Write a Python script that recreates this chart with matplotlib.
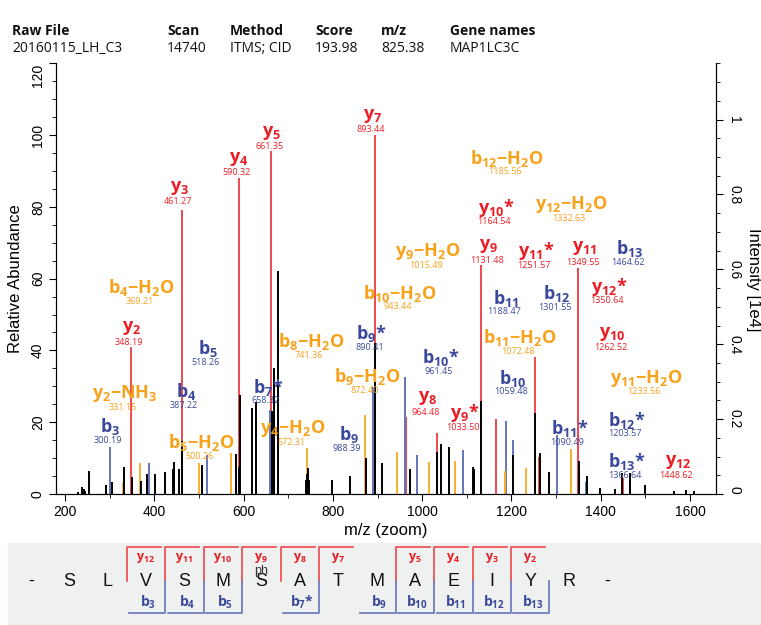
import matplotlib.pyplot as plt
from matplotlib.ticker import MultipleLocator
from matplotlib.patches import Rectangle

plt.rcParams['font.family'] = ['Liberation Sans', 'DejaVu Sans']
plt.rcParams['mathtext.fontset'] = 'custom'
plt.rcParams['mathtext.rm'] = 'Open Sans'
plt.rcParams['mathtext.bf'] = 'Open Sans:bold'

# ---- data -------------------------------------------------------------
header_keys = ['Raw File', 'Scan', 'Method', 'Score', 'm/z', 'Gene names']
header_vals = ['20160115_LH_C3', '14740', 'ITMS; CID', '193.98', '825.38', 'MAP1LC3C']

sequence = 'SLVSMSATMAEIYR'
phospho_site = 6
y_cover = [12, 11, 10, 9, 8, 7, 5, 4, 3, 2]
b_cover = [3, 4, 5, 7, 9, 10, 11, 12, 13]
b_cover_star = [7]

# annotated fragment peaks (relative abundance, %)
ion_names = ['y2', 'y3', 'y4', 'y5', 'y7', 'y8', 'y9', 'y10', 'y11', 'y12',
             'y9*', 'y10*', 'y11*', 'y12*',
             'b3', 'b4', 'b5', 'b9', 'b10', 'b11', 'b12', 'b13',
             'b7*', 'b9*', 'b10*', 'b11*', 'b12*', 'b13*',
             'y2-NH3', 'b4-H2O', 'b5-H2O', 'y4-H2O', 'b8-H2O', 'b9-H2O',
             'b10-H2O', 'y9-H2O', 'b11-H2O', 'b12-H2O', 'y11-H2O', 'y12-H2O']
ion_mz = [348.19, 461.27, 590.32, 661.35, 893.44, 964.48, 1131.48, 1262.52, 1349.55, 1448.62,
          1033.50, 1164.54, 1251.57, 1350.64,
          300.19, 387.22, 518.26, 988.39, 1059.48, 1188.47, 1301.55, 1464.62,
          658.32, 890.41, 961.45, 1090.49, 1203.57, 1366.64,
          331.15, 369.21, 500.26, 572.31, 741.36, 872.40,
          943.44, 1015.49, 1072.48, 1185.56, 1233.56, 1332.63]
ion_rel = [41, 79, 88, 95.5, 100, 21.5, 63.8, 10.4, 63, 4.5,
           17, 21, 38.2, 8,
           13, 8.5, 11, 10.9, 12, 20.3, 16.4, 4.8,
           23.4, 29.9, 32.6, 12.3, 15, 3.4,
           3.4, 8.5, 8.7, 11.5, 12.8, 22,
           11.8, 9, 9.2, 6.5, 7.3, 12.4]

# unassigned peaks
other_mz = [229.6, 239, 241.6, 244, 254, 291.6, 306.5, 332.8, 350, 370.5, 384, 401,
            423.6, 441, 443.8, 456, 462.5, 508, 582, 589.3, 591.8, 618, 627.4,
            662.8, 667.7, 677.4, 740.5, 743, 744.6, 746, 797, 839.3, 874,
            895, 910, 972, 1032.8, 1041.5, 1060.5, 1114, 1117, 1132.5, 1204.5,
            1252.5, 1264, 1284, 1350.2, 1370, 1397.5, 1431, 1447.5, 1465.8,
            1498, 1565, 1591.6, 1608]
other_rel = [0.6, 1.9, 1.5, 0.9, 6.5, 2.6, 3.4, 7.6, 4.7, 3.6, 5.7, 5.5,
             6, 6.9, 9, 6.9, 14.8, 8, 11.1, 7.6, 27.6, 24, 25.5,
             23, 35, 62, 3.8, 5.5, 7.2, 4, 3.9, 5, 9.9,
             42, 8.7, 7, 11.8, 13.8, 13, 7.6, 7, 26, 11,
             22.6, 11.3, 6, 9.2, 5, 1.6, 1.3, 5.8, 5.8,
             2.5, 0.9, 1, 0.8]

max_intensity = 0.9587  # intensity [1e4] of the 100 % peak

# ---- layout: where each fragment label sits (m/z, %) -------------------
label_pos = {
    'y3': (457, 85.3), 'y4': (590, 93.4), 'y5': (663, 100.7), 'y7': (890, 105.4),
    'b4-H2O': (371.5, 57.4), 'y2': (349, 46.2), 'b5': (520.6, 40.4),
    'y2-NH3': (334, 28.1), 'b4': (470.7, 28.5), 'b7*': (655, 29.8),
    'b3': (300.5, 18.8), 'b5-H2O': (505.8, 14.3), 'y4-H2O': (711, 18.3),
    'b8-H2O': (750.5, 42.5), 'b9-H2O': (876.5, 32.6), 'b9*': (886.4, 44.8),
    'b10-H2O': (949.7, 56), 'b10*': (1040.8, 37.9), 'y8': (1013, 26.7),
    'y9*': (1095, 22.5), 'b9': (836, 16.5), 'b11': (1188.6, 54.6),
    'b11-H2O': (1218.4, 43.7), 'b10': (1203.4, 32.3), 'y9-H2O': (1013, 67.6),
    'y9': (1149, 69), 'y11*': (1255.7, 67.6), 'y12-H2O': (1334, 80.6),
    'y11': (1364, 68.5), 'b13': (1464.6, 68.5), 'b12': (1302, 55.8),
    'y12*': (1418, 57.8), 'y10': (1426, 44.6), 'y11-H2O': (1502, 32.3),
    'b11*': (1330, 18.3), 'b12*': (1458.6, 20.6), 'b13*': (1458.6, 9.0),
    'y12': (1572.8, 9.0), 'y10*': (1166, 79.7), 'b12-H2O': (1190, 93.6),
}

RED, RED_LINE = '#ec1c24', '#f0474d'
BLUE, BLUE_LINE = '#3a489b', '#6474b8'
ORANGE, ORANGE_LINE = '#f7a21b', '#f9ad2f'


def ion_kind(name):
    if '-' in name:
        return ORANGE, ORANGE_LINE
    if name.startswith('y'):
        return RED, RED_LINE
    return BLUE, BLUE_LINE


def ion_tex(name):
    loss = ''
    if '-' in name:
        name, loss = name.split('-')
    star = name.endswith('*')
    core = name.rstrip('*')
    tex = r'\mathbf{%s}_{\mathbf{%s}}' % (core[0], core[1:])
    if star:
        tex += r'\mathbf{*}'
    if loss == 'H2O':
        tex += r'\mathbf{{-}H}_{\mathbf{2}}\mathbf{O}'
    elif loss == 'NH3':
        tex += r'\mathbf{{-}NH}_{\mathbf{3}}'
    return '$' + tex + '$'


# ---- figure -------------------------------------------------------------
W, H = 761, 625
fig = plt.figure(figsize=(W / 100, H / 100), dpi=100)

canvas = fig.add_axes([0, 0, 1, 1], zorder=0)
canvas.set_xlim(0, W)
canvas.set_ylim(H, 0)
canvas.axis('off')

ax = fig.add_axes([56 / W, 1 - 494 / H, 660 / W, (494 - 63.3) / H], zorder=2)
ax.set_facecolor('none')

colors = [ion_kind(n)[1] for n in ion_names]
ax.vlines(ion_mz, 0, ion_rel, colors=colors, lw=1.4, zorder=2)
ax.vlines(other_mz, 0, other_rel, colors='black', lw=1.4, zorder=3)

for name, mz in zip(ion_names, ion_mz):
    lx, ly = label_pos[name]
    col = ion_kind(name)[0]
    ax.text(lx, ly, ion_tex(name), color=col, fontsize=13, ha='center', va='center', zorder=4)
    ax.annotate(f'{mz:.2f}', (lx, ly), xytext=(-1.5, -10), textcoords='offset points',
                ha='center', va='center', fontsize=6.5, color=col, family='Open Sans', zorder=4)

ax.set_xlim(180, 1658)
ax.set_ylim(0, 120)
ax.xaxis.set_major_locator(MultipleLocator(200))
ax.xaxis.set_minor_locator(MultipleLocator(100))
ax.yaxis.set_major_locator(MultipleLocator(20))
ax.yaxis.set_minor_locator(MultipleLocator(5))
ax.spines['top'].set_visible(False)
ax.tick_params(which='major', direction='out', length=5, labelsize=10, pad=3)
ax.tick_params(which='minor', direction='out', length=3)
ax.tick_params(axis='y', labelrotation=90)
ax.set_xlabel('m/z (zoom)', fontsize=12, labelpad=3)
ax.set_ylabel('Relative Abundance', fontsize=12, labelpad=6)
ax.set_yticks(range(0, 121, 20))
for t in ax.get_yticklabels():
    t.set_va('center')
    if t.get_text() == '120':
        t.set_va('top')

ax2 = ax.twinx()
ax2.set_ylim(0, 120 * max_intensity / 100)
ax2.spines['top'].set_visible(False)
ax2.yaxis.set_major_locator(MultipleLocator(0.2))
ax2.yaxis.set_minor_locator(MultipleLocator(0.05))
ax2.tick_params(which='major', direction='out', length=5, labelsize=10, pad=3, labelrotation=270)
ax2.tick_params(which='minor', direction='out', length=3)
ax2.set_yticks([0, 0.2, 0.4, 0.6, 0.8, 1.0])
ax2.set_yticklabels(['0', '0.2', '0.4', '0.6', '0.8', '1'])
for t in ax2.get_yticklabels():
    t.set_va('center')
    if t.get_text() == '0':
        t.set_va('bottom')
fig.text(754 / W, 1 - 280 / H, 'Intensity [1e4]', rotation=270, fontsize=12, ha='center', va='center')

# header
header_x = [12, 167, 230, 315, 381, 450]
for x, k, v in zip(header_x, header_keys, header_vals):
    canvas.text(x, 31, k, fontsize=10, fontweight='bold', family='Open Sans', va='center', color='#111111')
    canvas.text(x, 49, v, fontsize=10, family='Open Sans', va='center', color='#111111')

# sequence panel
canvas.add_patch(Rectangle((8, 543), W - 8, H - 543, color='#eff0f0', zorder=0))
x0, step, ymid = 31, 38.4, 581
letters = ['-'] + list(sequence) + ['-']
for k, ch in enumerate(letters):
    canvas.text(x0 + step * k, ymid, ch, fontsize=13, ha='center', va='center', color='#111111')
canvas.text(x0 + step * phospho_site, 571, 'ph', fontsize=9, ha='center', va='center', color='#333333')

n_res = len(sequence)
for n in y_cover:
    xc = x0 + step * (n_res - n + 0.5)
    canvas.plot([xc, xc, xc + 34], [ymid, 547, 547], color=RED_LINE, lw=1.2)
    canvas.text(xc + 19, 558, ion_tex(f'y{n}'), color=RED, fontsize=9, ha='center', va='center')
for n in b_cover:
    xc = x0 + step * (n + 0.5)
    canvas.plot([xc, xc, xc - 36], [ymid, 613, 613], color=BLUE_LINE, lw=1.2)
    name = f'b{n}*' if n in b_cover_star else f'b{n}'
    canvas.text(xc - 17, 602, ion_tex(name), color=BLUE, fontsize=10, ha='center', va='center')

fig.savefig('out.png', dpi=100)
